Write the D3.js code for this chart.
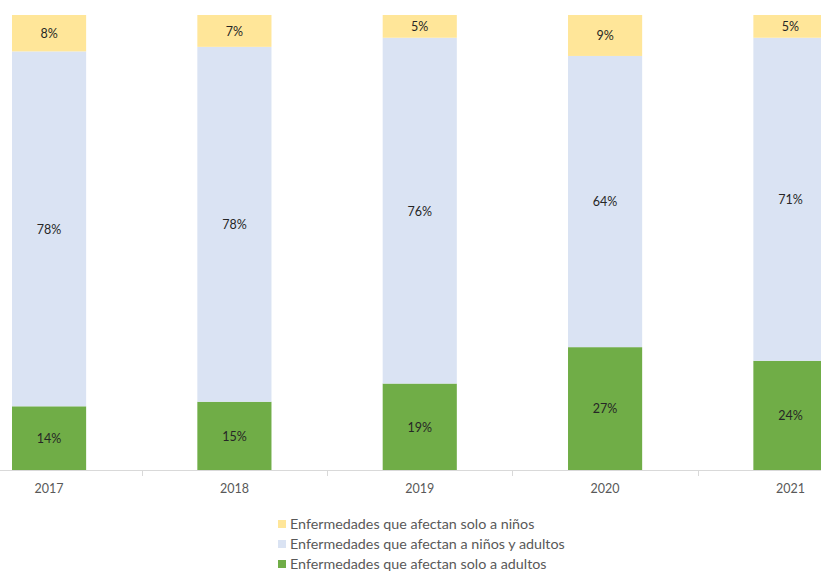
<!DOCTYPE html>
<html><head><meta charset="utf-8">
<script src="https://cdn.jsdelivr.net/npm/d3@7"></script>
<style>body{margin:0;background:#fff;overflow:hidden}svg{display:block}</style>
</head><body>
<svg id="c" width="821" height="571"></svg>
<script>
const years = ["2017","2018","2019","2020","2021"];
const soloAdultos = [14,15,19,27,24];
const ninosYAdultos = [78,78,76,64,71];
const soloNinos = [8,7,5,9,5];
const seriesNames = ["Enfermedades que afectan solo a adultos","Enfermedades que afectan a niños y adultos","Enfermedades que afectan solo a niños"];
const colors = ["#70AD47","#DAE3F3","#FFE699"];

const svg = d3.select("#c");
const font = "Lato, 'Open Sans', sans-serif";
const rows = years.map((y,i)=>({year:y, a:soloAdultos[i], b:ninosYAdultos[i], c:soloNinos[i]}));
const stack = d3.stack().keys(["a","b","c"])(rows);

const x = d3.scaleBand().domain(years).range([-43.6, 883.1]).paddingInner(0.6).paddingOuter(0.3);
const y = d3.scaleLinear().domain([0,100]).range([470,15]);

stack.forEach((s,si)=>{
  const g = svg.append("g");
  g.selectAll("rect").data(s).enter().append("rect")
    .attr("x", d=>x(d.data.year)).attr("width", x.bandwidth())
    .attr("y", d=>y(d[1])).attr("height", d=>y(d[0])-y(d[1]))
    .attr("fill", colors[si]);
  g.selectAll("text").data(s).enter().append("text")
    .attr("x", d=>x(d.data.year)+x.bandwidth()/2)
    .attr("y", d=>(y(d[0])+y(d[1]))/2 + 0.5)
    .attr("dy","0.35em").attr("text-anchor","middle")
    .attr("font-family",font).attr("font-size",12.5).attr("fill","#262626")
    .text(d=>(d[1]-d[0])+"%");
});

// axis
svg.append("line").attr("x1",0).attr("x2",821).attr("y1",470.5).attr("y2",470.5).attr("stroke","#d9d9d9");
const bounds = years.slice(1).map(yr=>x(yr)-x.step()*x.paddingInner()/2);
bounds.forEach(b=>{
  const bx = Math.round(b)+0.5;
  svg.append("line").attr("x1",bx).attr("x2",bx).attr("y1",470).attr("y2",476).attr("stroke","#d9d9d9");
});
svg.selectAll("text.yr").data(years).enter().append("text").attr("class","yr")
  .attr("x",d=>x(d)+x.bandwidth()/2).attr("y",489).attr("dy","0.35em")
  .attr("text-anchor","middle").attr("font-family",font).attr("font-size",12.5).attr("fill","#595959")
  .text(d=>d);

// legend
const legendOrder = [2,1,0];
legendOrder.forEach((si,k)=>{
  const ly = 524 + k*20;
  svg.append("rect").attr("x",278).attr("y",ly-4).attr("width",8).attr("height",8).attr("fill",colors[si]);
  svg.append("text").attr("x",290).attr("y",ly).attr("dy","0.35em")
    .attr("font-family",font).attr("font-size",14.3).attr("fill","#595959").text(seriesNames[si]);
});
</script>
</body></html>
